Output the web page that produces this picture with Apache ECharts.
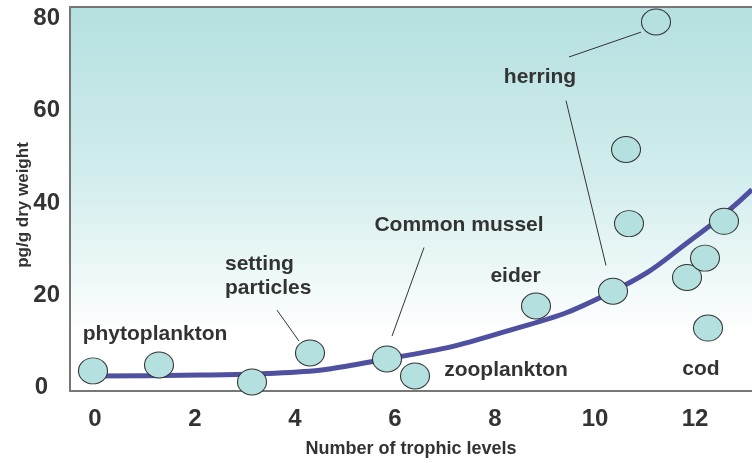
<!DOCTYPE html>
<html>
<head>
<meta charset="utf-8">
<script src="https://cdn.jsdelivr.net/npm/echarts@6/dist/echarts.min.js"></script>
<style>
html,body{margin:0;padding:0;background:#fff;}
#c{width:752px;height:463px;}
</style>
</head>
<body>
<div id="c"></div>
<script>
// ---- data ----
const xTicks = [0, 2, 4, 6, 8, 10, 12];
const yTicks = [0, 20, 40, 60, 80];

const sampleX = [-0.04, 1.28, 3.14, 4.30, 5.84, 6.40, 8.82, 10.36, 10.62, 10.68, 11.84, 12.20, 12.58, 12.26, 11.22];
const sampleY = [3.5, 4.8, 1.1, 7.4, 6.1, 2.4, 17.6, 20.8, 51.6, 35.5, 23.8, 28.0, 36.0, 12.8, 79.3];

const curveX = [-0.04, 2.1, 3.6, 5.84, 8.1, 10.36, 12.1, 13.14];
const curveY = [2.4, 2.6, 3.0, 6.1, 11.7, 20.8, 33.4, 42.9];

const labelNames = ['phytoplankton', 'setting\nparticles', 'Common mussel', 'eider', 'herring', 'zooplankton', 'cod'];
const labelX = [1.2, 2.6, 7.28, 8.41, 8.9, 8.22, 12.12];
const labelY = [11.5, 24.1, 35.1, 24.1, 67.4, 3.7, 3.9];
const labelAlign = ['center', 'left', 'center', 'center', 'center', 'center', 'center'];

const leaderFromX = [3.64, 6.58, 9.48, 9.42];
const leaderFromY = [16.7, 30.3, 71.7, 62.2];
const leaderToX = [4.08, 5.94, 10.92, 10.22];
const leaderToY = [9.97, 11.05, 77.1, 26.4];

// ---- chart ----
const FONT = '"Liberation Sans", Arial, sans-serif';
const TXT = '#333333';
const chart = echarts.init(document.getElementById('c'), null, {renderer: 'canvas'});

const option = {
  animation: false,
  grid: {
    left: 70, right: 0, top: 7, bottom: 71,
    show: true, borderWidth: 0,
    backgroundColor: {
      type: 'linear', x: 0, y: 0, x2: 0, y2: 1,
      colorStops: [
        {offset: 0, color: '#b5e0e0'},
        {offset: 0.45, color: '#d3eded'},
        {offset: 0.85, color: '#ffffff'},
        {offset: 1, color: '#ffffff'}
      ]
    }
  },
  xAxis: [{
    type: 'value', min: -0.5, max: 13.14,
    axisLine: {show: true, onZero: false, lineStyle: {color: '#777', width: 2}},
    axisTick: {show: false},
    splitLine: {show: false},
    axisLabel: {customValues: xTicks, margin: 16, fontSize: 24, fontWeight: 'bold', color: TXT, fontFamily: FONT},
    name: 'Number of trophic levels', nameLocation: 'middle', nameGap: 49, nameMoveOverlap: false,
    nameTextStyle: {fontSize: 18, fontWeight: 'bold', color: TXT, fontFamily: FONT}
  }, {
    type: 'value', position: 'top', min: -0.5, max: 13.14,
    axisLine: {show: true, onZero: false, lineStyle: {color: '#777', width: 2}},
    axisTick: {show: false}, axisLabel: {show: false}, splitLine: {show: false}
  }],
  yAxis: {
    type: 'value', min: -0.87, max: 82.56,
    axisLine: {show: true, onZero: false, lineStyle: {color: '#777', width: 2}},
    axisTick: {show: false},
    splitLine: {show: false},
    axisLabel: {
      customValues: yTicks, margin: 10, fontSize: 24, fontWeight: 'bold', color: TXT, fontFamily: FONT,
      formatter: v => v === 0 ? '{z|0}' : String(v),
      rich: {z: {fontSize: 24, fontWeight: 'bold', color: TXT, fontFamily: FONT, padding: [0, 12, 0, 0]}}
    },
    name: 'pg/g dry weight', nameLocation: 'middle', nameRotate: 90, nameGap: 38, nameMoveOverlap: false,
    nameTextStyle: {fontSize: 17, fontWeight: 'bold', color: TXT, fontFamily: FONT, padding: [0, 0, 0, -12]}
  },
  series: [
    {
      type: 'line', smooth: 0.5, symbol: 'none', z: 2,
      data: curveX.map((x, i) => [x, curveY[i]]),
      lineStyle: {color: '#5050a0', width: 5}
    },
    {
      type: 'lines', coordinateSystem: 'cartesian2d', z: 3,
      data: leaderFromX.map((x, i) => ({coords: [[x, leaderFromY[i]], [leaderToX[i], leaderToY[i]]]})),
      lineStyle: {color: '#333', width: 1, opacity: 1}
    },
    {
      type: 'scatter', z: 4,
      symbol: 'circle', symbolSize: [29, 26],
      data: sampleX.map((x, i) => [x, sampleY[i]]),
      itemStyle: {color: '#b5e0e0', borderColor: '#333', borderWidth: 1, opacity: 1}
    },
    {
      type: 'scatter', z: 5, symbolSize: 0, silent: true,
      itemStyle: {color: 'rgba(0,0,0,0)'},
      data: labelNames.map((n, i) => ({
        value: [labelX[i], labelY[i]], name: n,
        label: {align: labelAlign[i]}
      })),
      label: {
        show: true, position: 'inside', formatter: p => p.name,
        fontSize: 21, fontWeight: 'bold', color: TXT, fontFamily: FONT,
        textBorderWidth: 0, textBorderColor: 'transparent', opacity: 1,
        lineHeight: 24, verticalAlign: 'middle'
      }
    }
  ]
};
chart.setOption(option);
</script>
</body>
</html>
